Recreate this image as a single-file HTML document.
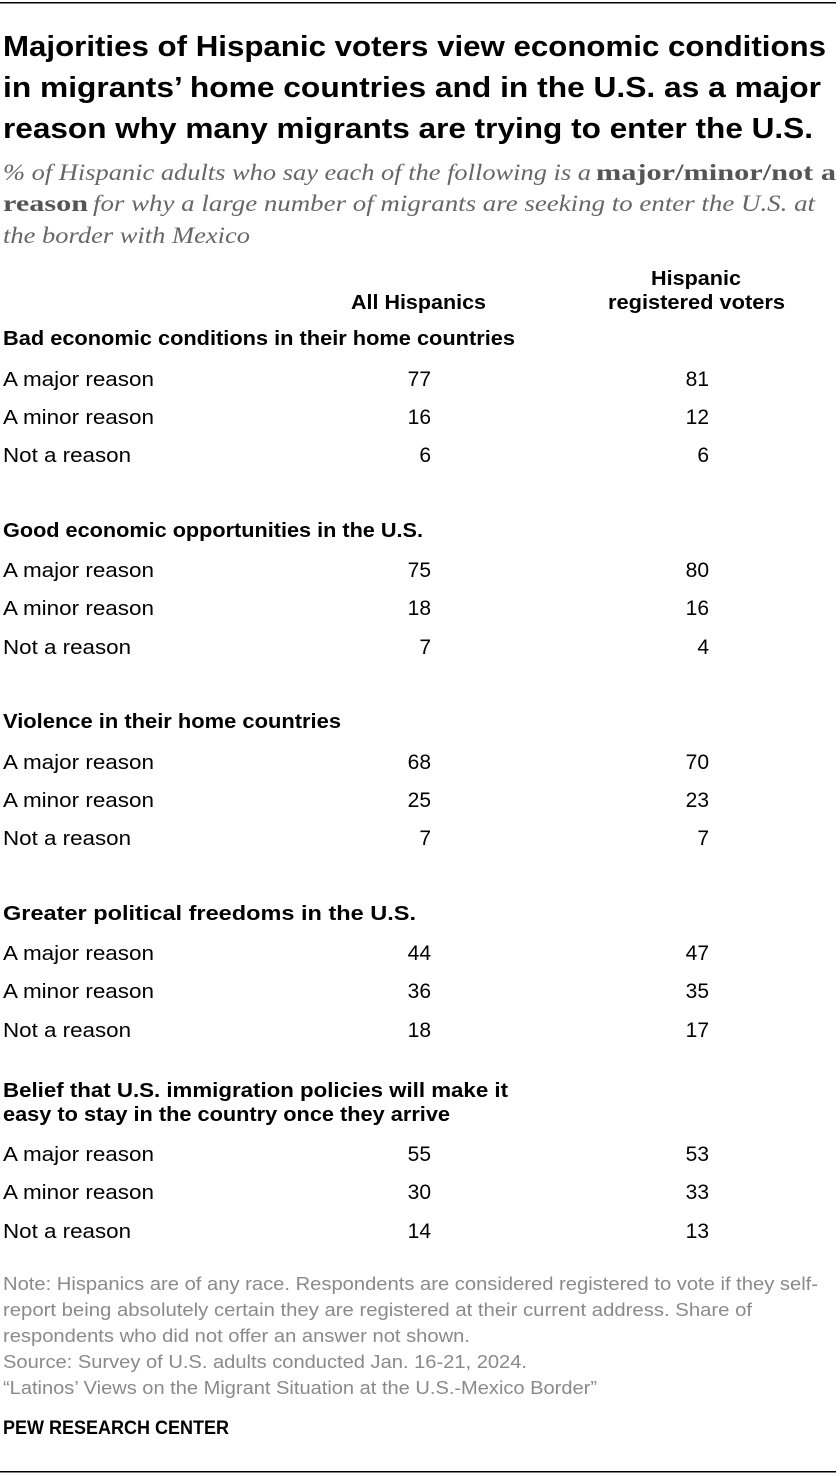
<!DOCTYPE html>
<html>
<head>
<meta charset="utf-8">
<style>
  html, body { margin: 0; padding: 0; background: #fff; }
  body { width: 840px; height: 1476px; overflow: hidden; }
  svg { display: block; }
  .t { font-family: "Liberation Sans", sans-serif; font-weight: bold; font-size: 29px; fill: #000; }
  .s { font-family: "Liberation Serif", serif; font-style: italic; font-size: 23px; fill: #666; }
  .sb { font-family: "Liberation Serif", serif; font-style: normal; font-weight: bold; font-size: 23px; fill: #555; }
  .h { font-family: "Liberation Sans", sans-serif; font-weight: bold; font-size: 20px; fill: #000; }
  .r { font-family: "Liberation Sans", sans-serif; font-size: 20px; fill: #000; }
  .n { font-family: "Liberation Sans", sans-serif; font-size: 21px; fill: #000; text-anchor: end; }
  .nt { font-family: "Liberation Sans", sans-serif; font-size: 18.5px; fill: #8a8a8a; }
  .pw { font-family: "Liberation Sans", sans-serif; font-weight: bold; font-size: 19px; fill: #000; }
</style>
</head>
<body>
<svg width="840" height="1476" viewBox="0 0 840 1476" xmlns="http://www.w3.org/2000/svg">
  <rect x="0" y="2" width="836" height="1.5" fill="#000"/>

  <!-- Title -->
  <text class="t" x="3" y="56" textLength="823" lengthAdjust="spacingAndGlyphs">Majorities of Hispanic voters view economic conditions</text>
  <text class="t" x="3" y="97" textLength="818" lengthAdjust="spacingAndGlyphs">in migrants’ home countries and in the U.S. as a major</text>
  <text class="t" x="3" y="138" textLength="810" lengthAdjust="spacingAndGlyphs">reason why many migrants are trying to enter the U.S.</text>

  <!-- Subtitle -->
  <text class="s" x="3" y="180" textLength="588" lengthAdjust="spacingAndGlyphs">% of Hispanic adults who say each of the following is a</text>
  <text class="sb" x="596" y="180" textLength="240" lengthAdjust="spacingAndGlyphs">major/minor/not a</text>
  <text class="sb" x="3" y="211" textLength="85" lengthAdjust="spacingAndGlyphs">reason</text>
  <text class="s" x="93" y="211" textLength="722" lengthAdjust="spacingAndGlyphs">for why a large number of migrants are seeking to enter the U.S. at</text>
  <text class="s" x="3" y="243" textLength="247" lengthAdjust="spacingAndGlyphs">the border with Mexico</text>

  <!-- Column headers -->
  <text class="h" x="351" y="309" textLength="135" lengthAdjust="spacingAndGlyphs">All Hispanics</text>
  <text class="h" x="651" y="285" textLength="90" lengthAdjust="spacingAndGlyphs">Hispanic</text>
  <text class="h" x="608" y="309" textLength="177" lengthAdjust="spacingAndGlyphs">registered voters</text>

  <!-- Section 1 -->
  <text class="h" x="3" y="345" textLength="512" lengthAdjust="spacingAndGlyphs">Bad economic conditions in their home countries</text>
  <text class="r" x="3" y="386" textLength="151" lengthAdjust="spacingAndGlyphs">A major reason</text>
  <text class="r" x="3" y="424" textLength="151" lengthAdjust="spacingAndGlyphs">A minor reason</text>
  <text class="r" x="3" y="462" textLength="128" lengthAdjust="spacingAndGlyphs">Not a reason</text>
  <text class="n" x="431" y="386">77</text><text class="n" x="709" y="386">81</text>
  <text class="n" x="431" y="424">16</text><text class="n" x="709" y="424">12</text>
  <text class="n" x="431" y="462">6</text><text class="n" x="709" y="462">6</text>

  <!-- Section 2 -->
  <text class="h" x="3" y="537" textLength="420" lengthAdjust="spacingAndGlyphs">Good economic opportunities in the U.S.</text>
  <text class="r" x="3" y="577" textLength="151" lengthAdjust="spacingAndGlyphs">A major reason</text>
  <text class="r" x="3" y="615" textLength="151" lengthAdjust="spacingAndGlyphs">A minor reason</text>
  <text class="r" x="3" y="654" textLength="128" lengthAdjust="spacingAndGlyphs">Not a reason</text>
  <text class="n" x="431" y="577">75</text><text class="n" x="709" y="577">80</text>
  <text class="n" x="431" y="615">18</text><text class="n" x="709" y="615">16</text>
  <text class="n" x="431" y="654">7</text><text class="n" x="709" y="654">4</text>

  <!-- Section 3 -->
  <text class="h" x="3" y="728" textLength="338" lengthAdjust="spacingAndGlyphs">Violence in their home countries</text>
  <text class="r" x="3" y="769" textLength="151" lengthAdjust="spacingAndGlyphs">A major reason</text>
  <text class="r" x="3" y="807" textLength="151" lengthAdjust="spacingAndGlyphs">A minor reason</text>
  <text class="r" x="3" y="845" textLength="128" lengthAdjust="spacingAndGlyphs">Not a reason</text>
  <text class="n" x="431" y="769">68</text><text class="n" x="709" y="769">70</text>
  <text class="n" x="431" y="807">25</text><text class="n" x="709" y="807">23</text>
  <text class="n" x="431" y="845">7</text><text class="n" x="709" y="845">7</text>

  <!-- Section 4 -->
  <text class="h" x="3" y="920" textLength="413" lengthAdjust="spacingAndGlyphs">Greater political freedoms in the U.S.</text>
  <text class="r" x="3" y="960" textLength="151" lengthAdjust="spacingAndGlyphs">A major reason</text>
  <text class="r" x="3" y="998" textLength="151" lengthAdjust="spacingAndGlyphs">A minor reason</text>
  <text class="r" x="3" y="1037" textLength="128" lengthAdjust="spacingAndGlyphs">Not a reason</text>
  <text class="n" x="431" y="960">44</text><text class="n" x="709" y="960">47</text>
  <text class="n" x="431" y="998">36</text><text class="n" x="709" y="998">35</text>
  <text class="n" x="431" y="1037">18</text><text class="n" x="709" y="1037">17</text>

  <!-- Section 5 -->
  <text class="h" x="3" y="1097" textLength="505" lengthAdjust="spacingAndGlyphs">Belief that U.S. immigration policies will make it</text>
  <text class="h" x="3" y="1121" textLength="447" lengthAdjust="spacingAndGlyphs">easy to stay in the country once they arrive</text>
  <text class="r" x="3" y="1161" textLength="151" lengthAdjust="spacingAndGlyphs">A major reason</text>
  <text class="r" x="3" y="1199" textLength="151" lengthAdjust="spacingAndGlyphs">A minor reason</text>
  <text class="r" x="3" y="1238" textLength="128" lengthAdjust="spacingAndGlyphs">Not a reason</text>
  <text class="n" x="431" y="1161">55</text><text class="n" x="709" y="1161">53</text>
  <text class="n" x="431" y="1199">30</text><text class="n" x="709" y="1199">33</text>
  <text class="n" x="431" y="1238">14</text><text class="n" x="709" y="1238">13</text>

  <!-- Notes -->
  <text class="nt" x="3" y="1290" textLength="815" lengthAdjust="spacingAndGlyphs">Note: Hispanics are of any race. Respondents are considered registered to vote if they self-</text>
  <text class="nt" x="3" y="1316" textLength="749" lengthAdjust="spacingAndGlyphs">report being absolutely certain they are registered at their current address. Share of</text>
  <text class="nt" x="3" y="1342" textLength="467" lengthAdjust="spacingAndGlyphs">respondents who did not offer an answer not shown.</text>
  <text class="nt" x="3" y="1368" textLength="524" lengthAdjust="spacingAndGlyphs">Source: Survey of U.S. adults conducted Jan. 16-21, 2024.</text>
  <text class="nt" x="3" y="1394" textLength="594" lengthAdjust="spacingAndGlyphs">“Latinos’ Views on the Migrant Situation at the U.S.-Mexico Border”</text>

  <text class="pw" x="3" y="1434" textLength="226" lengthAdjust="spacingAndGlyphs">PEW RESEARCH CENTER</text>

  <rect x="0" y="1471" width="836" height="1.5" fill="#000"/>
</svg>
</body>
</html>
